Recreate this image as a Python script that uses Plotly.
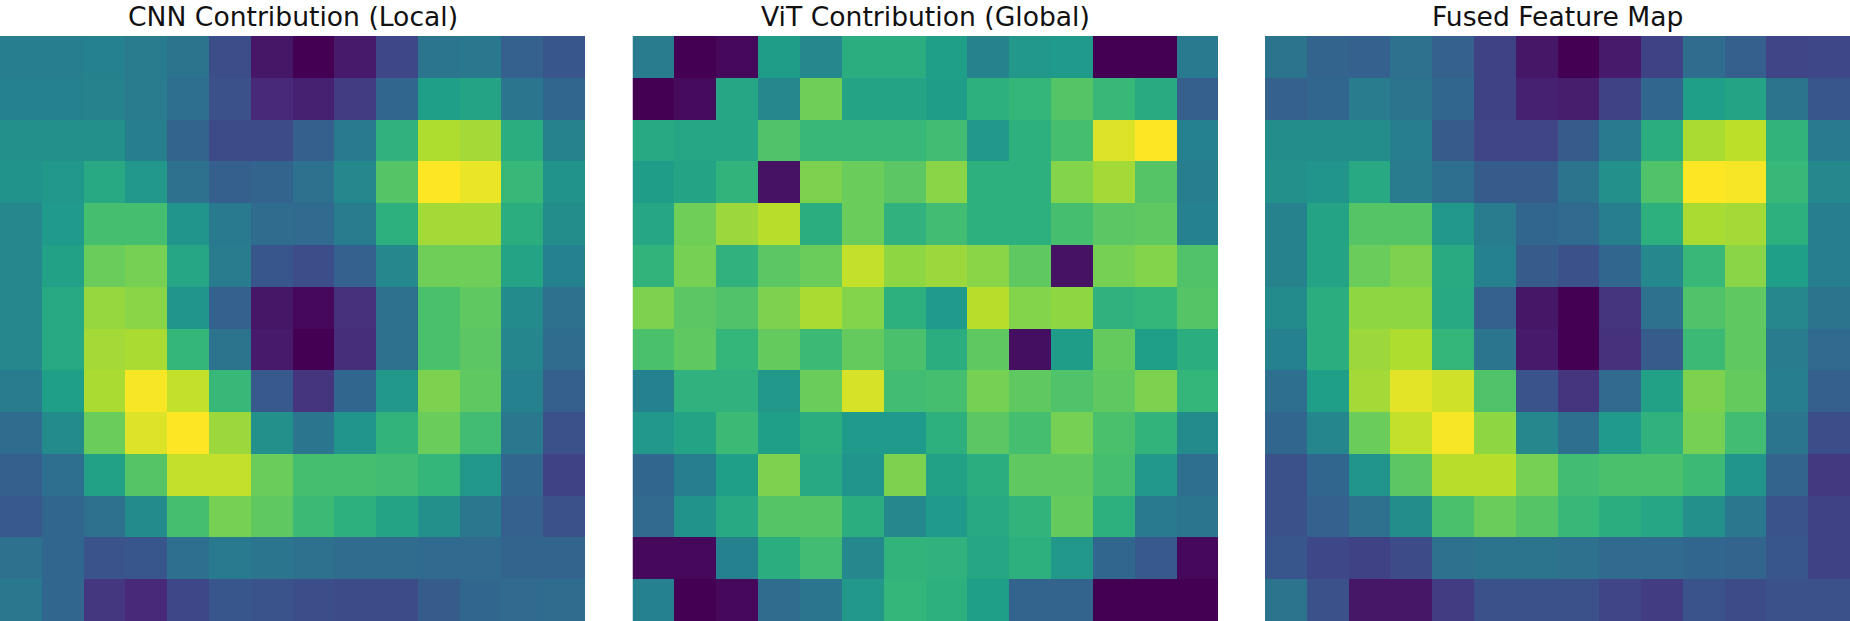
import plotly.graph_objects as go

titles = ["CNN Contribution (Local)", "ViT Contribution (Global)", "Fused Feature Map"]

cnn_values = [
    [.43,.43,.44,.42,.38,.24,.06,.00,.07,.22,.39,.40,.31,.27],
    [.44,.44,.45,.42,.36,.25,.11,.09,.18,.33,.56,.58,.39,.33],
    [.50,.50,.50,.43,.32,.23,.23,.30,.41,.64,.88,.86,.62,.45],
    [.51,.53,.60,.53,.37,.30,.32,.37,.47,.73,1.0,.97,.67,.51],
    [.47,.54,.70,.70,.52,.41,.35,.34,.42,.63,.86,.86,.62,.49],
    [.47,.57,.77,.79,.59,.42,.27,.24,.31,.47,.78,.78,.58,.44],
    [.47,.60,.84,.82,.52,.31,.06,.02,.14,.37,.71,.75,.48,.37],
    [.47,.60,.86,.87,.66,.38,.07,.00,.13,.37,.71,.74,.46,.35],
    [.42,.56,.87,.99,.91,.67,.28,.15,.33,.53,.80,.75,.44,.30],
    [.35,.48,.77,.95,1.0,.85,.50,.39,.52,.65,.77,.69,.40,.25],
    [.30,.36,.57,.73,.91,.91,.77,.70,.70,.69,.66,.53,.33,.20],
    [.28,.33,.37,.48,.70,.79,.75,.68,.63,.58,.50,.40,.31,.25],
    [.37,.33,.26,.27,.36,.41,.39,.37,.35,.35,.34,.34,.32,.32],
    [.40,.33,.16,.11,.22,.27,.26,.24,.23,.23,.29,.33,.34,.35],
]

vit_values = [
    [.42,.00,.02,.55,.47,.62,.62,.56,.45,.53,.54,.00,.00,.41],
    [.00,.03,.59,.47,.78,.58,.58,.55,.63,.66,.73,.67,.61,.30],
    [.60,.59,.59,.72,.67,.67,.67,.69,.53,.63,.70,.95,1.0,.44],
    [.55,.58,.65,.05,.80,.77,.74,.82,.63,.63,.81,.86,.73,.43],
    [.59,.78,.85,.89,.62,.77,.64,.69,.63,.63,.70,.74,.75,.44],
    [.65,.79,.64,.74,.77,.91,.83,.85,.82,.75,.05,.79,.81,.72],
    [.80,.74,.72,.80,.87,.81,.63,.54,.89,.81,.83,.64,.66,.73],
    [.71,.75,.66,.76,.68,.76,.71,.62,.75,.04,.55,.76,.56,.62],
    [.44,.64,.64,.53,.77,.94,.69,.70,.79,.75,.72,.75,.80,.66],
    [.53,.58,.68,.56,.62,.54,.54,.63,.74,.70,.79,.71,.65,.48],
    [.33,.43,.56,.80,.60,.52,.80,.57,.62,.75,.75,.70,.53,.36],
    [.34,.51,.60,.73,.73,.62,.47,.54,.60,.65,.76,.63,.41,.39],
    [.02,.02,.44,.62,.69,.47,.65,.64,.59,.63,.53,.33,.28,.02],
    [.44,.00,.02,.35,.39,.53,.66,.63,.56,.32,.32,.00,.00,.00],
]

fused_values = [
    [.38,.32,.31,.37,.31,.20,.06,.00,.07,.20,.35,.30,.21,.22],
    [.31,.33,.42,.38,.33,.20,.09,.08,.20,.33,.56,.58,.38,.27],
    [.49,.49,.49,.43,.29,.21,.21,.29,.41,.62,.87,.90,.65,.41],
    [.50,.52,.60,.42,.36,.29,.29,.38,.50,.72,1.0,.99,.67,.47],
    [.45,.58,.73,.73,.53,.42,.33,.34,.43,.63,.87,.86,.63,.43],
    [.45,.58,.77,.80,.61,.44,.29,.25,.33,.47,.67,.82,.56,.43],
    [.48,.62,.83,.83,.60,.31,.06,.00,.15,.37,.72,.75,.47,.38],
    [.44,.62,.85,.88,.66,.39,.07,.00,.14,.29,.68,.75,.42,.34],
    [.36,.56,.86,.96,.93,.72,.26,.15,.34,.57,.80,.76,.43,.30],
    [.33,.46,.77,.91,.99,.83,.47,.36,.54,.64,.79,.69,.39,.24],
    [.25,.33,.52,.74,.89,.89,.79,.69,.71,.71,.68,.52,.32,.17],
    [.25,.31,.37,.49,.71,.77,.73,.67,.62,.59,.50,.40,.26,.20],
    [.27,.22,.20,.23,.37,.38,.38,.37,.34,.34,.33,.32,.27,.20],
    [.38,.25,.06,.06,.18,.25,.25,.25,.21,.18,.26,.23,.25,.25],
]

W, H = 1850, 621
panels = [(0, 585), (632.5, 1218), (1265, 1850)]
fig = go.Figure()
layout = {}
annotations = []
for i, (z, title, (x0, x1)) in enumerate(zip([cnn_values, vit_values, fused_values], titles, panels), start=1):
    suffix = "" if i == 1 else str(i)
    fig.add_trace(go.Heatmap(z=z, colorscale="Viridis", zmin=0, zmax=1, showscale=False,
                             xaxis=f"x{suffix}", yaxis=f"y{suffix}", hoverinfo="skip"))
    layout[f"xaxis{suffix}"] = dict(domain=[x0 / W, x1 / W], range=[-0.5, 13.5], visible=False)
    layout[f"yaxis{suffix}"] = dict(domain=[0, 585 / H], range=[13.5, -0.5], visible=False)
    annotations.append(dict(text=title, x=(x0 + x1) / 2 / W, y=1, xref="paper", yref="paper",
                            xanchor="center", yanchor="top", showarrow=False, yshift=1,
                            font=dict(family="DejaVu Sans", size=26.6, color="#111111")))

fig.update_layout(width=W, height=H, margin=dict(l=0, r=0, t=0, b=0), paper_bgcolor="white",
                  plot_bgcolor="white", annotations=annotations, **layout)
fig.write_html("out.html", config={"displayModeBar": False},
               post_script="document.body.style.margin='0';document.body.style.overflow='hidden';")
